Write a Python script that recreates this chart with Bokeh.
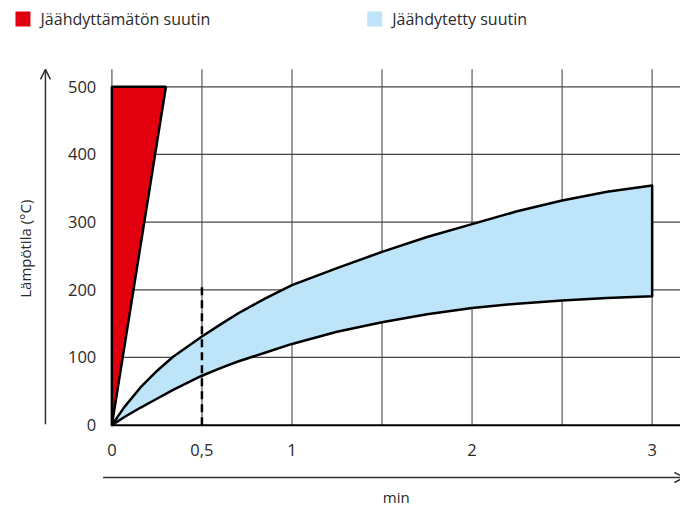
from math import pi
from bokeh.plotting import figure
from bokeh.models import Range1d, Arrow, OpenHead
from bokeh.core.properties import value
from bokeh.embed import file_html
from bokeh.resources import INLINE

# ---------------- data ----------------
series_names = ["Jäähdyttämätön suutin", "Jäähdytetty suutin"]
series_colors = ["#E2000F", "#BDE4F8"]

uncooled_x = [0, 0, 0.30]
uncooled_y = [0, 500, 500]

cooled_x = [0, 0.07, 0.16, 0.25, 0.34, 0.5, 0.61, 0.7, 0.85, 1.0, 1.25, 1.5, 1.75, 2.0, 2.25, 2.5, 2.75, 3.0]
cooled_upper = [0, 27, 56, 80, 101, 131, 150, 165, 187, 207, 232, 256, 278, 297, 316, 332, 345, 354]
cooled_lower = [0, 12, 26, 39, 52, 73, 85, 94, 107, 120, 138, 152, 164, 173, 179.5, 184, 188, 190.5]

marker_x = [0.5, 0.5]
marker_y = [0, 210]

x_grid = [0, 0.5, 1, 1.5, 2, 2.5, 3]
x_ticks = [0, 0.5, 1, 2, 3]
x_tick_labels = ["0", "0,5", "1", "2", "3"]
y_ticks = [0, 100, 200, 300, 400, 500]
y_tick_labels = ["0", "100", "200", "300", "400", "500"]
y_grid_top = 526
x_title = "min"
y_title = "Lämpötila (°C)"

# ---------------- layout ----------------
W, H = 680, 508              # figure size (reference area 696x524 scaled into it)
REF_W, REF_H = 696, 524
X0_PX, X_PER = 114.0, 184.33   # reference px of x=0, px per minute
Y0_PX, Y_PER = 438.0, 0.698    # reference px of y=0, px per degree


def dx(px):
    return (px - X0_PX) / X_PER


def dy(py):
    return (Y0_PX - py) / Y_PER


x_start, x_end = dx(0), dx(REF_W)
y_start, y_end = dy(REF_H), dy(0)

FONT = value("Open Sans")
TXT = "#2a2a2a"

p = figure(width=W, height=H, x_range=Range1d(x_start, x_end), y_range=Range1d(y_start, y_end),
           output_backend="svg", toolbar_location=None, x_axis_location=None, y_axis_location=None,
           min_border=0, outline_line_color=None, background_fill_color="white")
p.grid.visible = False

# grid
p.segment(x0=x_grid, y0=[0] * len(x_grid), x1=x_grid, y1=[y_grid_top] * len(x_grid),
          line_color="#7a7a7a", line_width=1.5)
hy = y_ticks[1:]
p.segment(x0=[0] * len(hy), y0=hy, x1=[x_end] * len(hy), y1=hy, line_color="#444444", line_width=1.3)
p.segment(x0=[0], y0=[0], x1=[x_end], y1=[0], line_color="black", line_width=2)

# cooled band
band_x = cooled_x + cooled_x[::-1]
band_y = cooled_upper + cooled_lower[::-1]
p.patch(band_x, band_y, fill_color=series_colors[1], line_color="black", line_width=2.5, line_join="round")

# uncooled wedge
p.patch(uncooled_x, uncooled_y, fill_color=series_colors[0], line_color="black", line_width=2.5)

# dashed marker
p.line(marker_x, marker_y, line_color="black", line_width=2.5, line_dash="8 5")

# tick labels
p.text(x=[dx(98)] * len(y_ticks), y=y_ticks, text=y_tick_labels, text_font=FONT, text_font_size="16.5px",
       text_align="right", text_baseline="middle", text_color=TXT)
p.text(x=x_ticks, y=[dy(464)] * len(x_ticks), text=x_tick_labels, text_font=FONT, text_font_size="16.5px",
       text_align="center", text_baseline="middle", text_color=TXT)

# axis arrows
p.add_layout(Arrow(end=OpenHead(size=10, line_width=1.5, line_color="#333333"),
                   x_start=dx(46), y_start=dy(437), x_end=dx(46), y_end=dy(71),
                   line_width=1.5, line_color="#333333"))
p.add_layout(Arrow(end=OpenHead(size=10, line_width=1.5, line_color="#333333"),
                   x_start=dx(105), y_start=dy(492), x_end=dx(700), y_end=dy(492),
                   line_width=1.5, line_color="#333333"))

# axis titles
p.text(x=[dx(405)], y=[dy(522)], text=[x_title], text_font=FONT, text_font_size="15px",
       text_align="center", text_baseline="bottom", text_color=TXT)
p.text(x=[dx(25)], y=[dy(256)], text=[y_title], text_font=FONT, text_font_size="15px", angle=pi / 2,
       text_align="center", text_baseline="middle", text_color=TXT)

# legend
p.scatter(x=[dx(23), dx(383)], y=[dy(19), dy(19)], marker="square", size=15,
          fill_color=series_colors, line_color=None)
p.text(x=[dx(41), dx(401)], y=[dy(19), dy(19)], text=series_names, text_font=FONT, text_font_size="16px",
       text_align="left", text_baseline="middle", text_color=TXT)

open("out.html", "w").write(file_html(p, INLINE))
